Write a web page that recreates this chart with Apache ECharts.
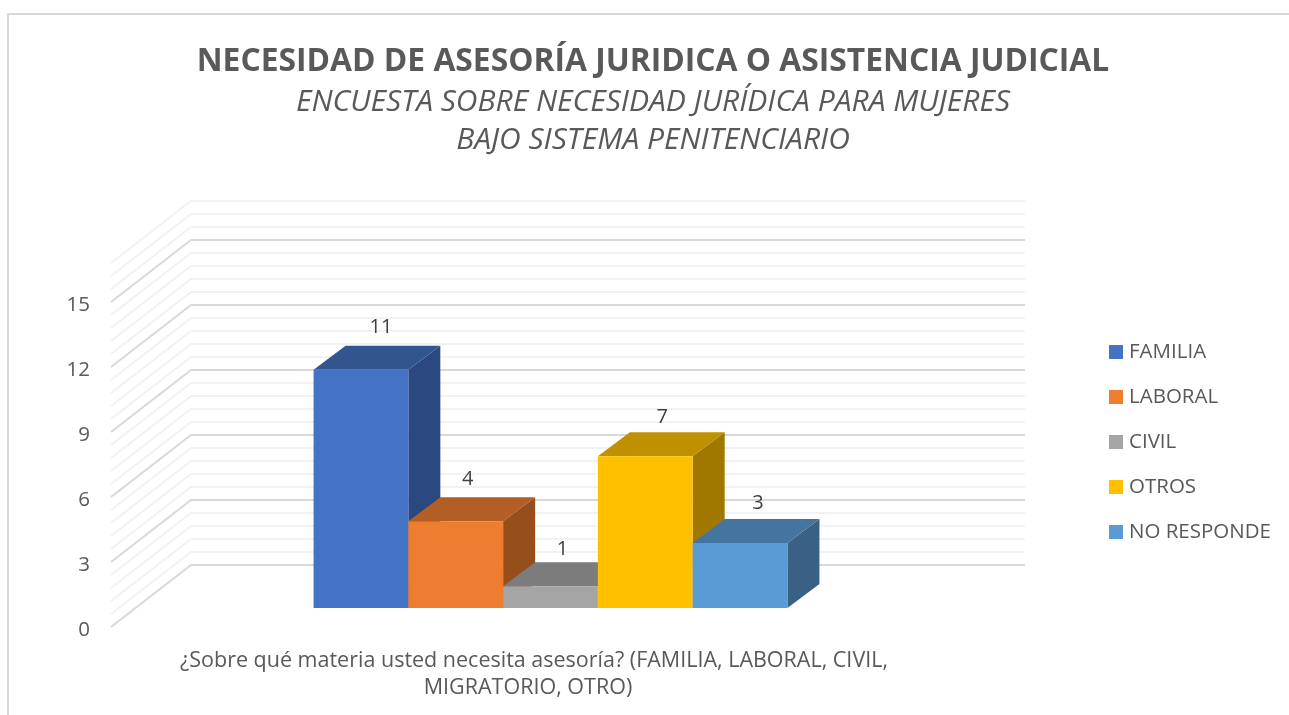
<!DOCTYPE html>
<html>
<head>
<meta charset="utf-8">
<title>Necesidad de asesoría</title>
<script src="https://cdn.jsdelivr.net/npm/echarts@6/dist/echarts.min.js"></script>
<style>
  html, body { margin: 0; padding: 0; background: #fff; }
  #chart { width: 1289px; height: 715px; }
</style>
</head>
<body>
<div id="chart"></div>
<script>
// datos
const titleText = 'NECESIDAD DE ASESORÍA JURIDICA O ASISTENCIA JUDICIAL'
const subtitleText = 'ENCUESTA SOBRE NECESIDAD JURÍDICA PARA MUJERES\nBAJO SISTEMA PENITENCIARIO'
const axisCategory = ['¿Sobre qué materia usted necesita asesoría? (FAMILIA, LABORAL, CIVIL,\nMIGRATORIO, OTRO)']
const seriesNames = ['FAMILIA', 'LABORAL', 'CIVIL', 'OTROS', 'NO RESPONDE']
const seriesValues = [11, 4, 1, 7, 3]
const majorTicks = [0, 3, 6, 9, 12, 15]
const minorTicks = [0.6, 1.2, 1.8, 2.4, 3.6, 4.2, 4.8, 5.4, 6.6, 7.2, 7.8, 8.4, 9.6, 10.2, 10.8, 11.4, 12.6, 13.2, 13.8, 14.4, 15.6, 16.2, 16.8]

// colores de cada cara: frente, tapa, lado
const faces = [
  ['#4472C4', '#32558F', '#2A4780'],
  ['#ED7D31', '#B25E24', '#964F1B'],
  ['#A5A5A5', '#7C7C7C', '#686868'],
  ['#FFC000', '#BF9000', '#A07800'],
  ['#5B9BD5', '#4475A0', '#396186']
]

const textColor = '#595959'
const font = '"Open Sans", sans-serif'
const wallDepth = [80, -62]    // del plano del eje a la pared del fondo
const barOffset = [22.5, -19]  // frente de las barras
const barDepth = [32, -24]
const bandInBars = 8.8         // ancho de la categoria medido en barras
const labelNudge = [[20, -42], [12, -42], [12, -37], [17, -39], [18, -40]]

const renderWall = (params, api) => {
  const v = api.value(0)
  const p = api.coord([0, v])
  const band = api.size([1, 0])[0]
  const left = p[0] - band / 2
  const major = majorTicks.indexOf(v) >= 0
  return {
    type: 'polyline',
    shape: { points: [
      [left, p[1]],
      [left + wallDepth[0], p[1] + wallDepth[1]],
      [left + band + wallDepth[0], p[1] + wallDepth[1]]
    ] },
    style: { fill: 'none', stroke: major ? '#D9D9D9' : '#F2F2F2', lineWidth: 2 }
  }
}

const renderBar = (index) => (params, api) => {
  const top = api.coord([0, api.value(1)])
  const base = api.coord([0, 0])
  const w = api.size([1, 0])[0] / bandInBars
  const x0 = top[0] + (index - 2.5) * w + barOffset[0]
  const x1 = x0 + w
  const y0 = top[1] + barOffset[1]
  const y1 = base[1] + barOffset[1]
  const dx = barDepth[0]
  const dy = barDepth[1]
  return {
    type: 'group',
    children: [
      { type: 'polygon', shape: { points: [[x1, y0], [x1 + dx, y0 + dy], [x1 + dx, y1 + dy], [x1, y1]] }, style: { fill: faces[index][2] } },
      { type: 'polygon', shape: { points: [[x0, y0], [x0 + dx, y0 + dy], [x1 + dx, y0 + dy], [x1, y0]] }, style: { fill: faces[index][1] } },
      { type: 'rect', shape: { x: x0, y: y0, width: w, height: y1 - y0 }, style: { fill: faces[index][0] } },
      { type: 'text', x: x0 + w / 2 + labelNudge[index][0], y: y0 + labelNudge[index][1], style: {
        text: String(api.value(1)), fill: '#404040', font: '20px ' + font, textAlign: 'center', textVerticalAlign: 'middle'
      } }
    ]
  }
}

const chart = echarts.init(document.getElementById('chart'))

chart.setOption({
  animation: false,
  backgroundColor: '#fff',
  textStyle: { fontFamily: font },
  title: {
    left: 648,
    top: 41,
    textAlign: 'center',
    text: titleText,
    subtext: subtitleText,
    itemGap: 5,
    textStyle: { fontFamily: font, fontSize: 31.8, fontWeight: 'bold', color: textColor },
    subtextStyle: { fontFamily: font, fontSize: 30, fontStyle: 'italic', color: textColor, lineHeight: 38, align: 'center' }
  },
  legend: {
    data: seriesNames,
    orient: 'vertical',
    left: 1104,
    top: 335,
    icon: 'rect',
    itemWidth: 14,
    itemHeight: 14,
    itemGap: 21,
    selectedMode: false,
    textStyle: { fontFamily: font, fontSize: 20.5, color: textColor, lineHeight: 24, padding: [0, 0, 0, 1] }
  },
  grid: { left: 111, right: 344, top: 263, bottom: 88 },
  xAxis: {
    type: 'category',
    data: axisCategory,
    axisLine: { show: false },
    axisTick: { show: false },
    axisLabel: {
      interval: 0,
      margin: 20,
      color: textColor,
      formatter: (v) => {
        const lines = v.split('\n')
        return '{a|' + lines[0] + '}\n{b|' + lines[1] + '}'
      },
      rich: {
        a: { fontFamily: font, fontSize: 21.5, lineHeight: 27, color: textColor, padding: [0, 0, 0, 12] },
        b: { fontFamily: font, fontSize: 21.5, lineHeight: 27, color: textColor }
      }
    }
  },
  yAxis: {
    type: 'value',
    min: 0,
    max: 16.8,
    interval: 3,
    splitLine: { show: false },
    axisLine: { show: false },
    axisTick: { show: false },
    axisLabel: { showMaxLabel: false, margin: 21, fontFamily: font, fontSize: 20.5, color: textColor, verticalAlign: 'top', lineHeight: 6 }
  },
  graphic: [{
    type: 'rect',
    silent: true,
    z: -1,
    shape: { x: 8, y: 14, width: 1400, height: 900 },
    style: { fill: 'none', stroke: '#D9D9D9', lineWidth: 2 }
  }],
  series: [
    {
      type: 'custom',
      name: 'pared',
      renderItem: renderWall,
      silent: true,
      encode: { y: 0 },
      data: majorTicks.concat(minorTicks).map((v) => [v]),
      z: 1
    }
  ].concat(seriesNames.map((name, i) => ({
    type: 'custom',
    name: name,
    renderItem: renderBar(i),
    itemStyle: { color: faces[i][0] },
    encode: { x: 0, y: 1 },
    data: [[0, seriesValues[i]]],
    z: 2 + i
  })))
})
</script>
</body>
</html>
